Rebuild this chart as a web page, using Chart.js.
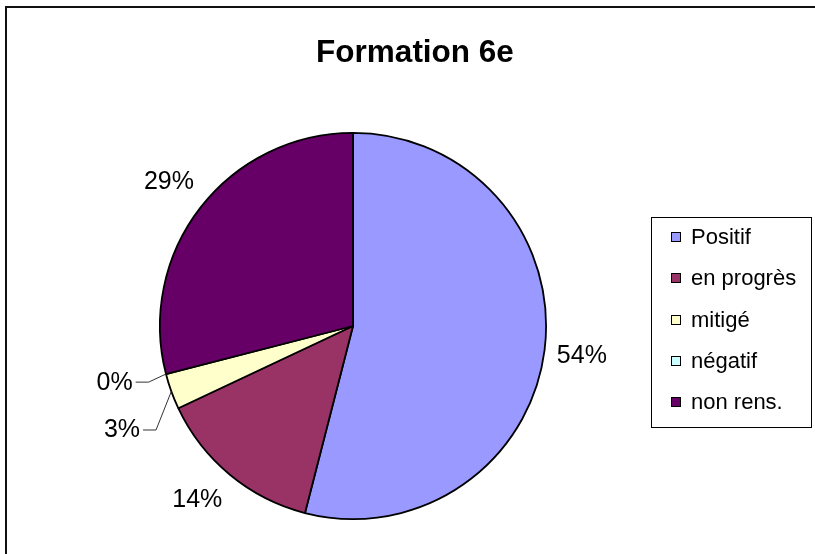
<!DOCTYPE html>
<html lang="fr">
<head>
<meta charset="UTF-8">
<title>Formation 6e</title>
<style>
  html, body { margin: 0; padding: 0; background: #fff; }
</style>
</head>
<body>
<canvas id="myChart" width="815" height="554"></canvas>

<script src="https://cdn.jsdelivr.net/npm/chart.js"></script>
<script>
// données
const categories = ['Positif', 'en progrès', 'mitigé', 'négatif', 'non rens.'];
const percents = [54, 14, 3, 0, 29];
const colors = ['#9999FF', '#993366', '#FFFFCC', '#CCFFFF', '#660066'];
const titleText = 'Formation 6e';

// réglages d'affichage des étiquettes (décalage, trait de rappel)
const labelShift = [[-1, 0], [-8, -5], [-13, 25], [-14, -2], [-1, -3]];
const leader = [false, false, true, true, false];

const FONT = '"Liberation Sans", Arial, sans-serif';

const decor = {
  id: 'decor',
  beforeDraw(chart) {
    const c = chart.ctx;
    c.save();
    c.fillStyle = '#fff';
    c.fillRect(0, 0, chart.width, chart.height);
    // cadre (coupé à droite et en bas)
    c.strokeStyle = '#111';
    c.lineWidth = 2;
    c.beginPath();
    c.moveTo(6, chart.height);
    c.lineTo(6, 7);
    c.lineTo(chart.width, 7);
    c.stroke();
    c.restore();
  },
  afterDraw(chart) {
    const c = chart.ctx;
    c.save();
    // titre
    c.fillStyle = '#000';
    c.font = 'bold 31.5px ' + FONT;
    c.textAlign = 'center';
    c.textBaseline = 'middle';
    c.fillText(titleText, 415, 53);

    // légende
    c.strokeStyle = '#000';
    c.lineWidth = 1;
    c.strokeRect(651.5, 217.5, 160, 210);
    c.font = '22px ' + FONT;
    c.textAlign = 'left';
    categories.forEach((lab, i) => {
      const y = 237 + i * 41.25;
      c.fillStyle = colors[i];
      c.fillRect(671, Math.round(y) - 5, 10, 10);
      c.strokeRect(671.5, Math.round(y) - 4.5, 9, 9);
      c.fillStyle = '#000';
      c.fillText(lab, 691, y + 1);
    });

    // étiquettes de pourcentage
    const arcs = chart.getDatasetMeta(0).data;
    c.font = '25px ' + FONT;
    c.textAlign = 'center';
    arcs.forEach((arc, i) => {
      const mid = (arc.startAngle + arc.endAngle) / 2;
      const r = arc.outerRadius;
      const x = arc.x + Math.cos(mid) * r * 1.2 + labelShift[i][0];
      const y = arc.y + Math.sin(mid) * r * 1.2 + labelShift[i][1];
      const txt = percents[i] + '%';
      c.fillStyle = '#000';
      c.fillText(txt, x, y + 1);
      if (leader[i]) {
        const w = c.measureText(txt).width;
        const x0 = x + w / 2 + 3;
        c.strokeStyle = '#333';
        c.lineWidth = 1;
        c.beginPath();
        c.moveTo(x0, y + 0.5);
        c.lineTo(x0 + 13, y + 0.5);
        c.lineTo(arc.x + Math.cos(mid) * r, arc.y + Math.sin(mid) * r);
        c.stroke();
      }
    });
    c.restore();
  }
};

const ctx = document.getElementById('myChart');

new Chart(ctx, {
  type: 'pie',
  data: {
    labels: categories,
    datasets: [{
      data: percents,
      backgroundColor: colors,
      borderColor: '#000',
      borderWidth: 1.8
    }]
  },
  options: {
    responsive: false,
    animation: false,
    devicePixelRatio: 1,
    layout: { padding: { left: 159, right: 268, top: 132, bottom: 34 } },
    plugins: {
      legend: { display: false },
      title: { display: false },
      tooltip: { enabled: false }
    }
  },
  plugins: [decor]
});
</script>
</body>
</html>
